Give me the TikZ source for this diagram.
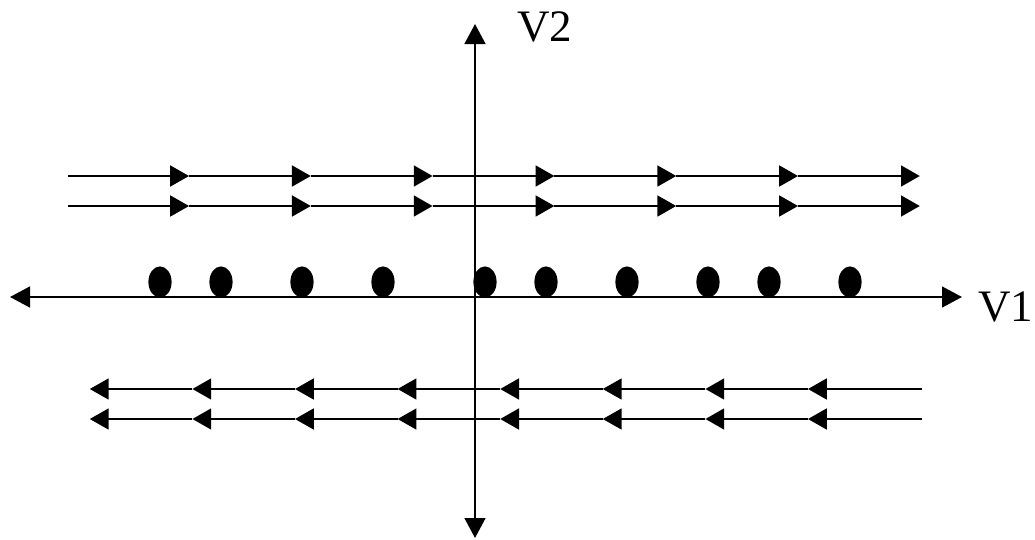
\documentclass[tikz,border=0pt]{standalone}
\usepackage{fontspec}
\setmainfont{Liberation Serif}
\usetikzlibrary{arrows.meta}
\tikzset{
  axis/.style={line width=1.6pt, -{Triangle[length=0.5cm, width=0.52cm]}},
  flow/.style={line width=1.6pt, -{Triangle[length=0.47cm, width=0.52cm]}},
  point/.style={fill=black, x radius=0.29cm, y radius=0.39cm},
  axlab/.style={font=\fontsize{32}{38}\selectfont, inner sep=0pt}
}

\begin{document}
\begin{tikzpicture}[x=0.025cm,y=-0.025cm]
\useasboundingbox (0,0) rectangle (1035,540);

% ---------------- Axes ----------------
\coordinate (o) at (475,297);
\coordinate (left) at (10,297);
\coordinate (right) at (962,297);
\coordinate (top) at (475,24);
\coordinate (bottom) at (475,538);
\draw[axis] (o) -- (right);
\draw[axis] (o) -- (left);
\draw[axis] (o) -- (top);
\draw[axis] (o) -- (bottom);
\node[axlab] (v1) at (1006,307) {V1};
\node[axlab] (v2) at (545,27) {V2};

% ---------------- Points on V1 ----------------
\foreach \px in {160,221,302,383,485,546,627,708,769,850}
  \fill[point] (\px,282) ellipse [];

% ---------------- Upper flow (to the right) ----------------
\foreach \py in {176,206} {
  \coordinate (r0) at (68,\py);
  \foreach \k in {1,...,7}
    \coordinate (r\k) at ({189+121.8*(\k-1)},\py);
  \foreach \k [remember=\k as \j (initially 0)] in {1,...,7}
    \draw[flow] (r\j) -- (r\k);
}

% ---------------- Lower flow (to the left) ----------------
\foreach \py in {389,419} {
  \coordinate (l0) at (922,\py);
  \foreach \k in {1,...,8}
    \coordinate (l\k) at ({808-102.6*(\k-1)},\py);
  \foreach \k [remember=\k as \j (initially 0)] in {1,...,8}
    \draw[flow] (l\j) -- (l\k);
}

\end{tikzpicture}
\end{document}
